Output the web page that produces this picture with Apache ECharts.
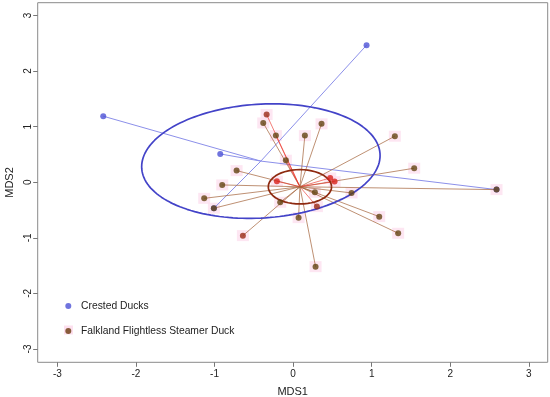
<!DOCTYPE html>
<html>
<head>
<meta charset="utf-8">
<script src="https://cdn.jsdelivr.net/npm/echarts@6/dist/echarts.min.js"></script>
<style>html,body{margin:0;padding:0;background:#fff}#c{width:550px;height:397px}</style>
</head>
<body>
<div id="c"></div>
<script>
// ---- data ----
const xTicks = [-3, -2, -1, 0, 1, 2, 3];
const yTicks = [-3, -2, -1, 0, 1, 2, 3];

const crestedX = [-2.416, -0.927, 0.935, 2.589, -1.008];
const crestedY = [1.188, 0.509, 2.466, -0.133, -0.468];
const crestedCentroid = [-0.41, 0.38];
const crestedCov = [2.301, 0.153, 1.061];   // ellipse shape: var x, cov xy, var y

const falkX = [-0.337, -0.380, -0.219, -0.092, -0.719, -0.902, -1.131, -0.206, 0.362, 0.150, 1.295, 1.541, 2.589, 0.472, 0.528, 0.277, 0.744, -1.008, -0.164, 0.303, 0.070, 1.096, 1.337, -0.639, 0.286];
const falkY = [1.217, 1.067, 0.839, 0.396, 0.209, -0.049, -0.290, 0.018, 1.050, 0.839, 0.828, 0.252, -0.133, 0.077, 0.011, -0.180, -0.193, -0.468, -0.360, -0.439, -0.637, -0.619, -0.918, -0.961, -1.519];
const falkTone = ['d','b','b','b','b','b','b','r','b','b','b','b','b','r','r','b','b','b','b','d','b','b','b','d','b'];
const falkLineTone = ['r','b','r','r','b','b','b','r','b','b','b','b','b','r','r','b','b','b','b','r','b','b','b','b','b'];
const falkCentroid = [0.087, -0.082];
const falkCov = [0.162, 0.0, 0.0955];

const groupNames = ['Crested Ducks', 'Falkland Flightless Steamer Duck'];

// ---- build ----
function ellipse(c, cov, n) {
  const a1 = Math.sqrt(cov[0]);
  const a2 = cov[1] / a1;
  const b2 = Math.sqrt(cov[2] - a2 * a2);
  const pts = [];
  for (let i = 0; i <= n; i++) {
    const t = 2 * Math.PI * i / n;
    pts.push([c[0] + a1 * Math.cos(t), c[1] + a2 * Math.cos(t) + b2 * Math.sin(t)]);
  }
  return pts;
}
const crestedPts = crestedX.map((x, i) => [x, crestedY[i]]);
const falkPts = falkX.map((x, i) => [x, falkY[i]]);

const toneColor = { b: '#634312', r: '#d8221c', d: '#9a2a16' };
const lineColor = { b: 'rgba(165,100,60,0.8)', r: 'rgba(235,50,40,0.7)' };

const chart = echarts.init(document.getElementById('c'), null, { renderer: 'canvas' });
const font = 'Liberation Sans, Arial';
chart.setOption({
  animation: false,
  backgroundColor: '#fff',
  grid: { left: 37.7, top: 2.7, right: 2.3, bottom: 34.7, containLabel: false, outerBoundsMode: 'none',
          show: true, borderColor: '#8a8a8a', borderWidth: 1, backgroundColor: 'transparent' },
  xAxis: {
    type: 'value', min: -3.25, max: 3.24,
    axisLine: { show: false, onZero: false }, splitLine: { show: false },
    name: 'MDS1', nameLocation: 'middle', nameGap: 24,
    nameTextStyle: { color: '#222', fontFamily: font, fontSize: 11 },
    axisTick: { show: true, length: 4.5, lineStyle: { color: '#777' }, customValues: xTicks },
    axisLabel: { customValues: xTicks, margin: 7, color: '#222', fontFamily: font, fontSize: 10 }
  },
  yAxis: {
    type: 'value', min: -3.24, max: 3.23,
    axisLine: { show: false, onZero: false }, splitLine: { show: false },
    name: 'MDS2', nameLocation: 'middle', nameGap: 21, nameRotate: 90,
    nameTextStyle: { color: '#222', fontFamily: font, fontSize: 11 },
    axisTick: { show: true, length: 4.5, lineStyle: { color: '#777' }, customValues: yTicks },
    axisLabel: { customValues: yTicks, rotate: 90, margin: 4, color: '#222', fontFamily: font, fontSize: 10 }
  },
  legend: {
    orient: 'vertical', left: 65.3, top: 301, itemGap: 15, padding: 0,
    icon: 'circle', itemWidth: 15.5, itemHeight: 6,
    textStyle: { color: '#222', fontFamily: font, fontSize: 10.3 },
    data: groupNames
  },
  graphic: [{ type: 'rect', shape: { x: 64, y: 325.5, width: 9, height: 9 }, style: { fill: '#fde0ef' }, z: -1 }],
  series: [
    { type: 'scatter', name: 'halo', silent: true, symbol: 'rect', symbolSize: [12, 11], z: 1,
      itemStyle: { color: '#fde0ef' }, data: falkPts },
    { type: 'lines', coordinateSystem: 'cartesian2d', z: 2, silent: true,
      lineStyle: { color: '#8c90ea', width: 1, opacity: 1 },
      data: crestedPts.map(p => ({ coords: [crestedCentroid, p] })) },
    { type: 'lines', coordinateSystem: 'cartesian2d', z: 3, silent: true,
      data: falkPts.map((p, i) => ({ coords: [falkCentroid, p], lineStyle: { color: lineColor[falkLineTone[i]], width: 0.9, opacity: 1 } })) },
    { type: 'line', name: 'e1', showSymbol: false, z: 4, silent: true, lineStyle: { color: '#4343c8', width: 1.7 },
      data: ellipse(crestedCentroid, crestedCov, 160) },
    { type: 'line', name: 'e2', showSymbol: false, z: 4, silent: true, lineStyle: { color: '#8e2a10', width: 1.7 },
      data: ellipse(falkCentroid, falkCov, 100) },
    { type: 'scatter', name: groupNames[0], symbol: 'circle', symbolSize: 6, z: 5,
      itemStyle: { color: '#4c51d6' }, data: crestedPts },
    { type: 'scatter', name: groupNames[1], symbol: 'circle', symbolSize: 6, z: 6,
      itemStyle: { color: '#6a3a0e' },
      data: falkPts.map((p, i) => ({ value: p, itemStyle: { color: toneColor[falkTone[i]] } })) }
  ]
});
</script>
</body>
</html>
